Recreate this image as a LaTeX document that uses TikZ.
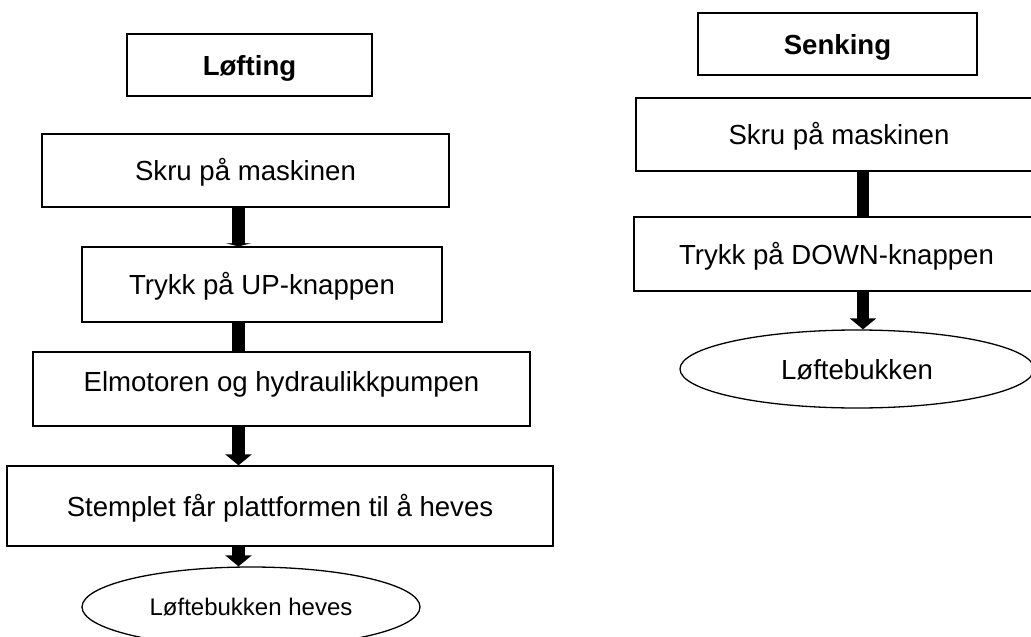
\documentclass[tikz,border=0pt]{standalone}
\usepackage{fontspec}
\setmainfont{Liberation Sans}
\usetikzlibrary{arrows.meta,shapes.geometric}
\tikzset{
  box/.style={draw=black, line width=1.3pt, rectangle, inner sep=0pt,
    font=\fontsize{27.6}{30}\selectfont, text height=20pt, text depth=0pt},
  titlebox/.style={box, font=\fontsize{27.6}{30}\selectfont\bfseries},
  oval/.style={draw=black, line width=1.3pt, ellipse, inner sep=0pt,
    font=\fontsize{27.6}{30}\selectfont, text height=20pt, text depth=0pt},
  flow/.style={draw=black, line width=13pt},
  bigtip/.style={flow, -{Triangle[length=11pt,width=26pt]}},
  flattip/.style={flow, -{Triangle[length=3pt,width=25pt]}}
}
\begin{document}
\begin{tikzpicture}[x=1pt,y=-1pt]
\fill[white] (0,0) rectangle (1031,637);
\useasboundingbox (0,0) rectangle (1031,637);

% left column
\node[titlebox, minimum width=245pt, minimum height=62pt] (L1) at (249.5,65) {Løfting};
\node[box, minimum width=407pt, minimum height=73pt] (L2) at (245.5,170.5) {Skru på maskinen};
\node[box, minimum width=360pt, minimum height=75pt] (L3) at (262,284.5) {Trykk på UP-knappen};
\node[box, minimum width=497pt, minimum height=74pt, text depth=16pt] (L4) at (281.5,389) {Elmotoren og hydraulikkpumpen};
\node[box, minimum width=546pt, minimum height=80pt] (L5) at (280,506) {Stemplet får plattformen til å heves};
\node[oval, minimum width=338pt, minimum height=80pt, font=\fontsize{24}{28}\selectfont, text height=17pt] (L6) at (251,607) {Løftebukken heves};

\coordinate (colL) at (238.5,0);
\draw[flattip] (L2.south -| colL) -- (L3.north -| colL);
\draw[flow] (L3.south -| colL) -- (L4.north -| colL);
\draw[bigtip] (L4.south -| colL) -- (L5.north -| colL);
\draw[bigtip] (L5.south -| colL) -- (L6.north -| colL);

% right column
\node[titlebox, minimum width=279pt, minimum height=62pt] (R1) at (837.5,44) {Senking};
\node[box, minimum width=406pt, minimum height=73pt] (R2) at (839,134.5) {Skru på maskinen};
\node[box, minimum width=405pt, minimum height=74pt] (R3) at (836.5,254) {Trykk på DOWN-knappen};
\node[oval, minimum width=354pt, minimum height=78pt] (R4) at (857,369) {Løftebukken};

\coordinate (colR) at (863,0);
\draw[flow, line width=12pt] (R2.south -| colR) -- (R3.north -| colR);
\draw[bigtip, line width=12pt] (R3.south -| colR) -- (R4.north -| colR);
\end{tikzpicture}
\end{document}
